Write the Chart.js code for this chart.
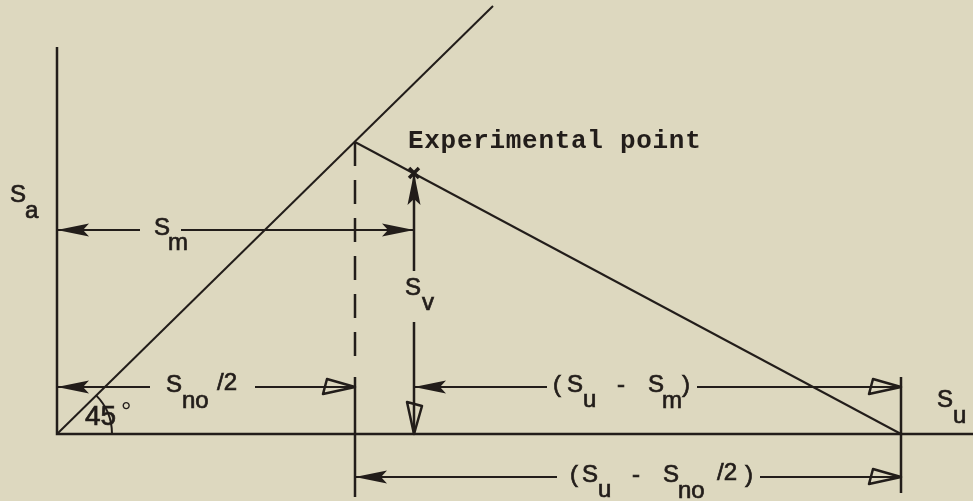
<!DOCTYPE html>
<html>
<head>
<meta charset="utf-8">
<script src="https://cdn.jsdelivr.net/npm/chart.js@4.4.1/dist/chart.umd.min.js"></script>
<style>
    html, body { margin: 0; padding: 0; background: #ddd8bf; }
    #goodmanChart { display: block; }
</style>
</head>
<body>
<canvas id="goodmanChart" width="973" height="501"></canvas>
<script>
// Diagram values (stress units, origin at Sa = 0, Sm = 0)
const axisLine = [[0, 387], [0, 0], [916, 0]];
const fortyFiveLine = [[0, 0], [436, 428]];
const goodmanLine = [[298, 292], [844, 0]];
const experimentalPoint = [[357, 261]];
const dashedDrop = [[298, 292], [298, 77]];
const extensionLines = [
    [[298, 57], [298, -63]],
    [[844, 57], [844, -59]]
];
const svLine = [
    [[357, 261], [357, 163]],
    [[357, 112], [357, 0]]
];
const dimensionLines = [
    [[0, 204], [83, 204]], [[124, 204], [357, 204]],     // Sm
    [[0, 47], [93, 47]], [[198, 47], [298, 47]],         // Sno/2
    [[357, 47], [490, 47]], [[640, 47], [844, 47]],      // Su - Sm
    [[298, -43], [500, -43]], [[703, -43], [844, -43]]   // Su - Sno/2
];
// arrow tips: x, y, direction, filled
const arrowTips = [
    [0, 204, 'left', true], [357, 204, 'right', true],
    [357, 261, 'up', true], [357, 0, 'down', false],
    [0, 47, 'left', true], [298, 47, 'right', false],
    [357, 47, 'left', true], [844, 47, 'right', false],
    [298, -43, 'left', true], [844, -43, 'right', false]
];

const ink = '#221d1a';

// Text labels: anchor in data units, runs = [text, dx, dy] in pixels
const sansLabels = [
    { x: -47, y: 232, runs: [['S', 0, 0], ['a', 15, 16]] },
    { x: 97, y: 199, runs: [['S', 0, 0], ['m', 14, 15]] },
    { x: 109, y: 42, runs: [['S', 0, 0], ['no', 16, 16], ['/2', 51, -2]] },
    { x: 348, y: 139, runs: [['S', 0, 0], ['v', 17, 15]] },
    { x: 496, y: 42, runs: [['(', 0, 0], ['S', 14, 0], ['u', 30, 15], ['-', 64, 0], ['S', 95, 0], ['m', 109, 16], [')', 129, 0]] },
    { x: 513, y: -48, runs: [['(', 0, 0], ['S', 12, 0], ['u', 28, 15], ['-', 62, 0], ['S', 93, 0], ['no', 108, 16], ['/2', 147, -2], [')', 175, 0]] },
    { x: 880, y: 27, runs: [['S', 0, 0], ['u', 16, 16]] }
];

function toPoints(list) {
    return list.map(p => ({ x: p[0], y: p[1] }));
}

function lineDataset(points, width, dash) {
    return {
        data: toPoints(points),
        showLine: true,
        borderColor: ink,
        borderWidth: width,
        borderDash: dash || [],
        pointRadius: 0,
        tension: 0,
        clip: false
    };
}

const datasets = [
    lineDataset(axisLine, 2.5),
    lineDataset(fortyFiveLine, 2),
    lineDataset(goodmanLine, 2),
    lineDataset(dashedDrop, 2.5, [24, 14])
];
extensionLines.forEach(seg => datasets.push(lineDataset(seg, 2.5)));
svLine.forEach(seg => datasets.push(lineDataset(seg, 2.5)));
dimensionLines.forEach(seg => datasets.push(lineDataset(seg, 2)));
datasets.push({
    data: toPoints(experimentalPoint),
    showLine: false,
    pointStyle: 'crossRot',
    pointRadius: 7,
    borderColor: ink,
    borderWidth: 3.5,
    clip: false
});

// Paper background
const paperPlugin = {
    id: 'paper',
    beforeDraw(chart) {
        const { ctx, width, height } = chart;
        ctx.save();
        ctx.fillStyle = '#ddd8bf';
        ctx.fillRect(0, 0, width, height);
        ctx.restore();
    }
};

// Arrowheads, 45 degree arc and lettering
const annotationPlugin = {
    id: 'annotations',
    afterDatasetsDraw(chart) {
        const { ctx, scales: { x, y } } = chart;
        ctx.save();
        ctx.fillStyle = ink;
        ctx.strokeStyle = ink;

        arrowTips.forEach(([ax, ay, dir, filled]) => {
            const px = x.getPixelForValue(ax);
            const py = y.getPixelForValue(ay);
            const angle = { left: Math.PI, right: 0, up: -Math.PI / 2, down: Math.PI / 2 }[dir];
            ctx.save();
            ctx.translate(px, py);
            ctx.rotate(angle);
            ctx.beginPath();
            if (filled) {
                ctx.moveTo(0, 0);
                ctx.lineTo(-32, -6.5);
                ctx.lineTo(-26, 0);
                ctx.lineTo(-32, 6.5);
                ctx.closePath();
                ctx.fill();
            } else {
                ctx.moveTo(0, 0);
                ctx.lineTo(-28, -8);
                ctx.lineTo(-32, 7);
                ctx.closePath();
                ctx.lineWidth = 2.5;
                ctx.lineJoin = 'round';
                ctx.stroke();
            }
            ctx.restore();
        });

        // 45 degree angle arc at the origin
        const ox = x.getPixelForValue(0);
        const oy = y.getPixelForValue(0);
        ctx.beginPath();
        ctx.arc(ox, oy, 55, -Math.PI / 4, 0);
        ctx.lineWidth = 2;
        ctx.stroke();

        // lettering, slightly emboldened like pen lettering
        ctx.textBaseline = 'alphabetic';
        ctx.textAlign = 'left';
        ctx.lineWidth = 0.7;
        ctx.font = '24px "Liberation Sans", Arial, sans-serif';
        sansLabels.forEach(label => {
            const px = x.getPixelForValue(label.x);
            const py = y.getPixelForValue(label.y);
            label.runs.forEach(([t, dx, dy]) => {
                ctx.fillText(t, px + dx, py + dy);
                ctx.strokeText(t, px + dx, py + dy);
            });
        });

        // angle label
        ctx.font = '28px "Liberation Sans", Arial, sans-serif';
        ctx.fillText('45', x.getPixelForValue(28), y.getPixelForValue(9));
        ctx.strokeText('45', x.getPixelForValue(28), y.getPixelForValue(9));
        ctx.font = '26px "Liberation Sans", Arial, sans-serif';
        ctx.fillText('°', x.getPixelForValue(64), y.getPixelForValue(14));

        // typewritten note
        ctx.font = 'bold 26px "Liberation Mono", monospace';
        ctx.letterSpacing = '0.7px';
        ctx.fillText('Experimental point', x.getPixelForValue(351), y.getPixelForValue(286));
        ctx.restore();
    }
};

const goodmanChart = new Chart(document.getElementById('goodmanChart'), {
    type: 'scatter',
    data: { datasets: datasets },
    options: {
        responsive: false,
        animation: false,
        events: [],
        layout: { padding: 0, autoPadding: false },
        plugins: {
            legend: { display: false },
            tooltip: { enabled: false }
        },
        scales: {
            x: { type: 'linear', min: -57, max: 916, display: false },
            y: { type: 'linear', min: -67, max: 434, display: false }
        }
    },
    plugins: [paperPlugin, annotationPlugin]
});
</script>
</body>
</html>
